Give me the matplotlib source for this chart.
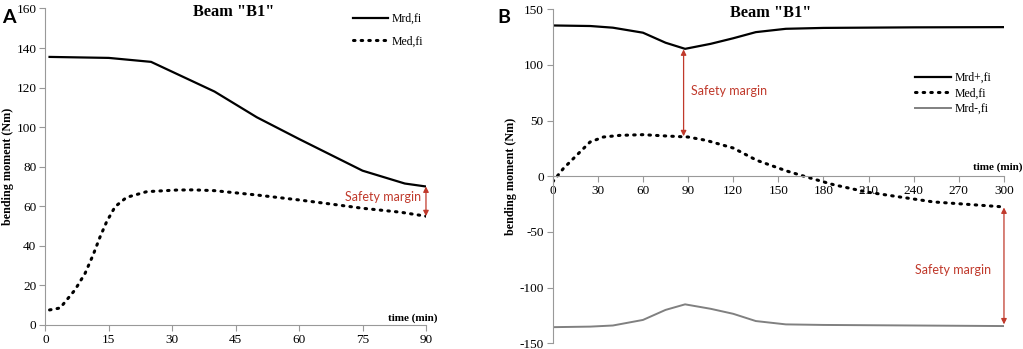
import matplotlib
matplotlib.use("Agg")
import matplotlib.pyplot as plt

plt.rcParams['font.family'] = ['Liberation Serif', 'DejaVu Serif']
plt.rcParams['axes.unicode_minus'] = False

# panel A data
timeA_rd = [1, 15, 25, 40, 50, 60, 75, 85, 90]
mrdA = [135.5, 135, 133, 118, 105, 94, 78, 71.5, 70]
timeA_ed = [1, 3.5, 5, 7, 9.4, 11.3, 12.9, 14.5, 16.5, 19.2, 24, 31, 35, 40, 50, 60, 68, 75, 84, 90]
medA = [7.6, 8.6, 12.5, 17.7, 26.1, 35.4, 44.3, 52.2, 59.8, 64.5, 67.4, 68.2, 68.3, 67.9, 65.7, 63.2, 61, 59, 57, 55]

# panel B data
timeB_rd = [0, 25, 40, 60, 75, 88, 105, 120, 135, 155, 180, 240, 300]
mrd_pos = [135.5, 135, 133.5, 129, 120, 114.5, 119, 124, 129.5, 132.5, 133.3, 133.8, 134]
mrd_neg = [-135.5, -135, -134, -129, -120, -115, -119, -123.5, -130, -133, -133.5, -134, -134.5]
timeB_ed = [0, 7, 14.8, 24.8, 33.7, 44.8, 60, 75.8, 90, 102, 120, 135.6, 155.5, 168.8, 186.6, 208.7, 231, 253, 300]
medB = [-5, 6.9, 17.4, 30.8, 35.3, 36.8, 37.4, 36.2, 35.3, 32.3, 25.4, 14.4, 4.8, -0.6, -7.5, -14.1, -18.6, -23, -27.5]

red = '#c0392b'
spine_c = '#999999'
tick_fs = 9.5
sans = ['Lato', 'DejaVu Sans']
dots = (0, (0.5, 2.0))

fig = plt.figure(figsize=(10.23, 3.49), dpi=100)
axA = fig.add_axes([0.0443, 0.0688, 0.3721, 0.907])
axB = fig.add_axes([0.5403, 0.0163, 0.4411, 0.957])

for ax in (axA, axB):
    ax.spines['top'].set_visible(False)
    ax.spines['right'].set_visible(False)
    for s in ('left', 'bottom'):
        ax.spines[s].set_color(spine_c)
        ax.spines[s].set_linewidth(0.8)
    ax.tick_params(colors=spine_c, labelcolor='black', labelsize=tick_fs, length=4, width=0.8, pad=2.5)
    ax.set_ylabel('bending moment (Nm)', fontsize=8.7, fontweight='bold', labelpad=2)

axA.text(0.496, 0.99, 'Beam "B1"', transform=axA.transAxes, ha='center', va='center',
         fontsize=11.8, fontweight='bold')
axB.text(0.483, 0.99, 'Beam "B1"', transform=axB.transAxes, ha='center', va='center',
         fontsize=11.8, fontweight='bold')

# ---- panel A
axA.plot(timeA_rd, mrdA, color='black', lw=1.6, label='Mrd,fi')
axA.plot(timeA_ed, medA, color='black', lw=2.2, ls=dots, dash_capstyle='round', label='Med,fi')
axA.set_xlim(0, 90)
axA.set_ylim(0, 160)
axA.set_xticks(range(0, 91, 15))
axA.set_yticks(range(0, 161, 20))
axA.text(1.03, 0.005, 'time (min)', transform=axA.transAxes, ha='right', va='bottom',
         fontsize=8, fontweight='bold')
axA.annotate('', xy=(90, 55), xytext=(90, 70),
             arrowprops=dict(arrowstyle='<|-|>', color=red, lw=0.9, mutation_scale=8, shrinkA=0, shrinkB=0))
axA.text(88.8, 64.5, 'Safety margin', color=red, fontsize=9, ha='right', va='center', family=sans)
axA.legend(loc='upper right', bbox_to_anchor=(1.02, 1.02), frameon=False, fontsize=8.5,
           handlelength=3.0, handletextpad=0.3, labelspacing=0.9)
fig.text(0.002, 0.975, 'A', fontsize=14, fontweight='bold', family=sans, va='top')

# ---- panel B
axB.plot(timeB_rd, mrd_pos, color='black', lw=1.6, label='Mrd+,fi')
axB.plot(timeB_ed, medB, color='black', lw=2.2, ls=dots, dash_capstyle='round', label='Med,fi')
axB.plot(timeB_rd, mrd_neg, color='#808080', lw=1.4, label='Mrd-,fi')
axB.set_xlim(0, 300)
axB.set_ylim(-150, 150)
axB.spines['bottom'].set_position(('data', 0))
axB.set_xticks(range(0, 301, 30))
axB.set_yticks(range(-150, 151, 50))
axB.text(1.04, 0.513, 'time (min)', transform=axB.transAxes, ha='right', va='bottom',
         fontsize=8, fontweight='bold')
axB.annotate('', xy=(87, 36), xytext=(87, 114),
             arrowprops=dict(arrowstyle='<|-|>', color=red, lw=0.9, mutation_scale=8, shrinkA=0, shrinkB=0))
axB.text(92, 77, 'Safety margin', color=red, fontsize=9, ha='left', va='center', family=sans)
axB.annotate('', xy=(300, -133), xytext=(300, -28),
             arrowprops=dict(arrowstyle='<|-|>', color=red, lw=0.9, mutation_scale=8, shrinkA=0, shrinkB=0))
axB.text(241, -84, 'Safety margin', color=red, fontsize=9, ha='left', va='center', family=sans)
axB.legend(loc='upper right', bbox_to_anchor=(0.995, 0.845), frameon=False, fontsize=8.5,
           handlelength=3.0, handletextpad=0.3, labelspacing=0.3)
fig.text(0.486, 0.975, 'B', fontsize=14, fontweight='bold', family=sans, va='top')

fig.savefig('out.png', dpi=100)
